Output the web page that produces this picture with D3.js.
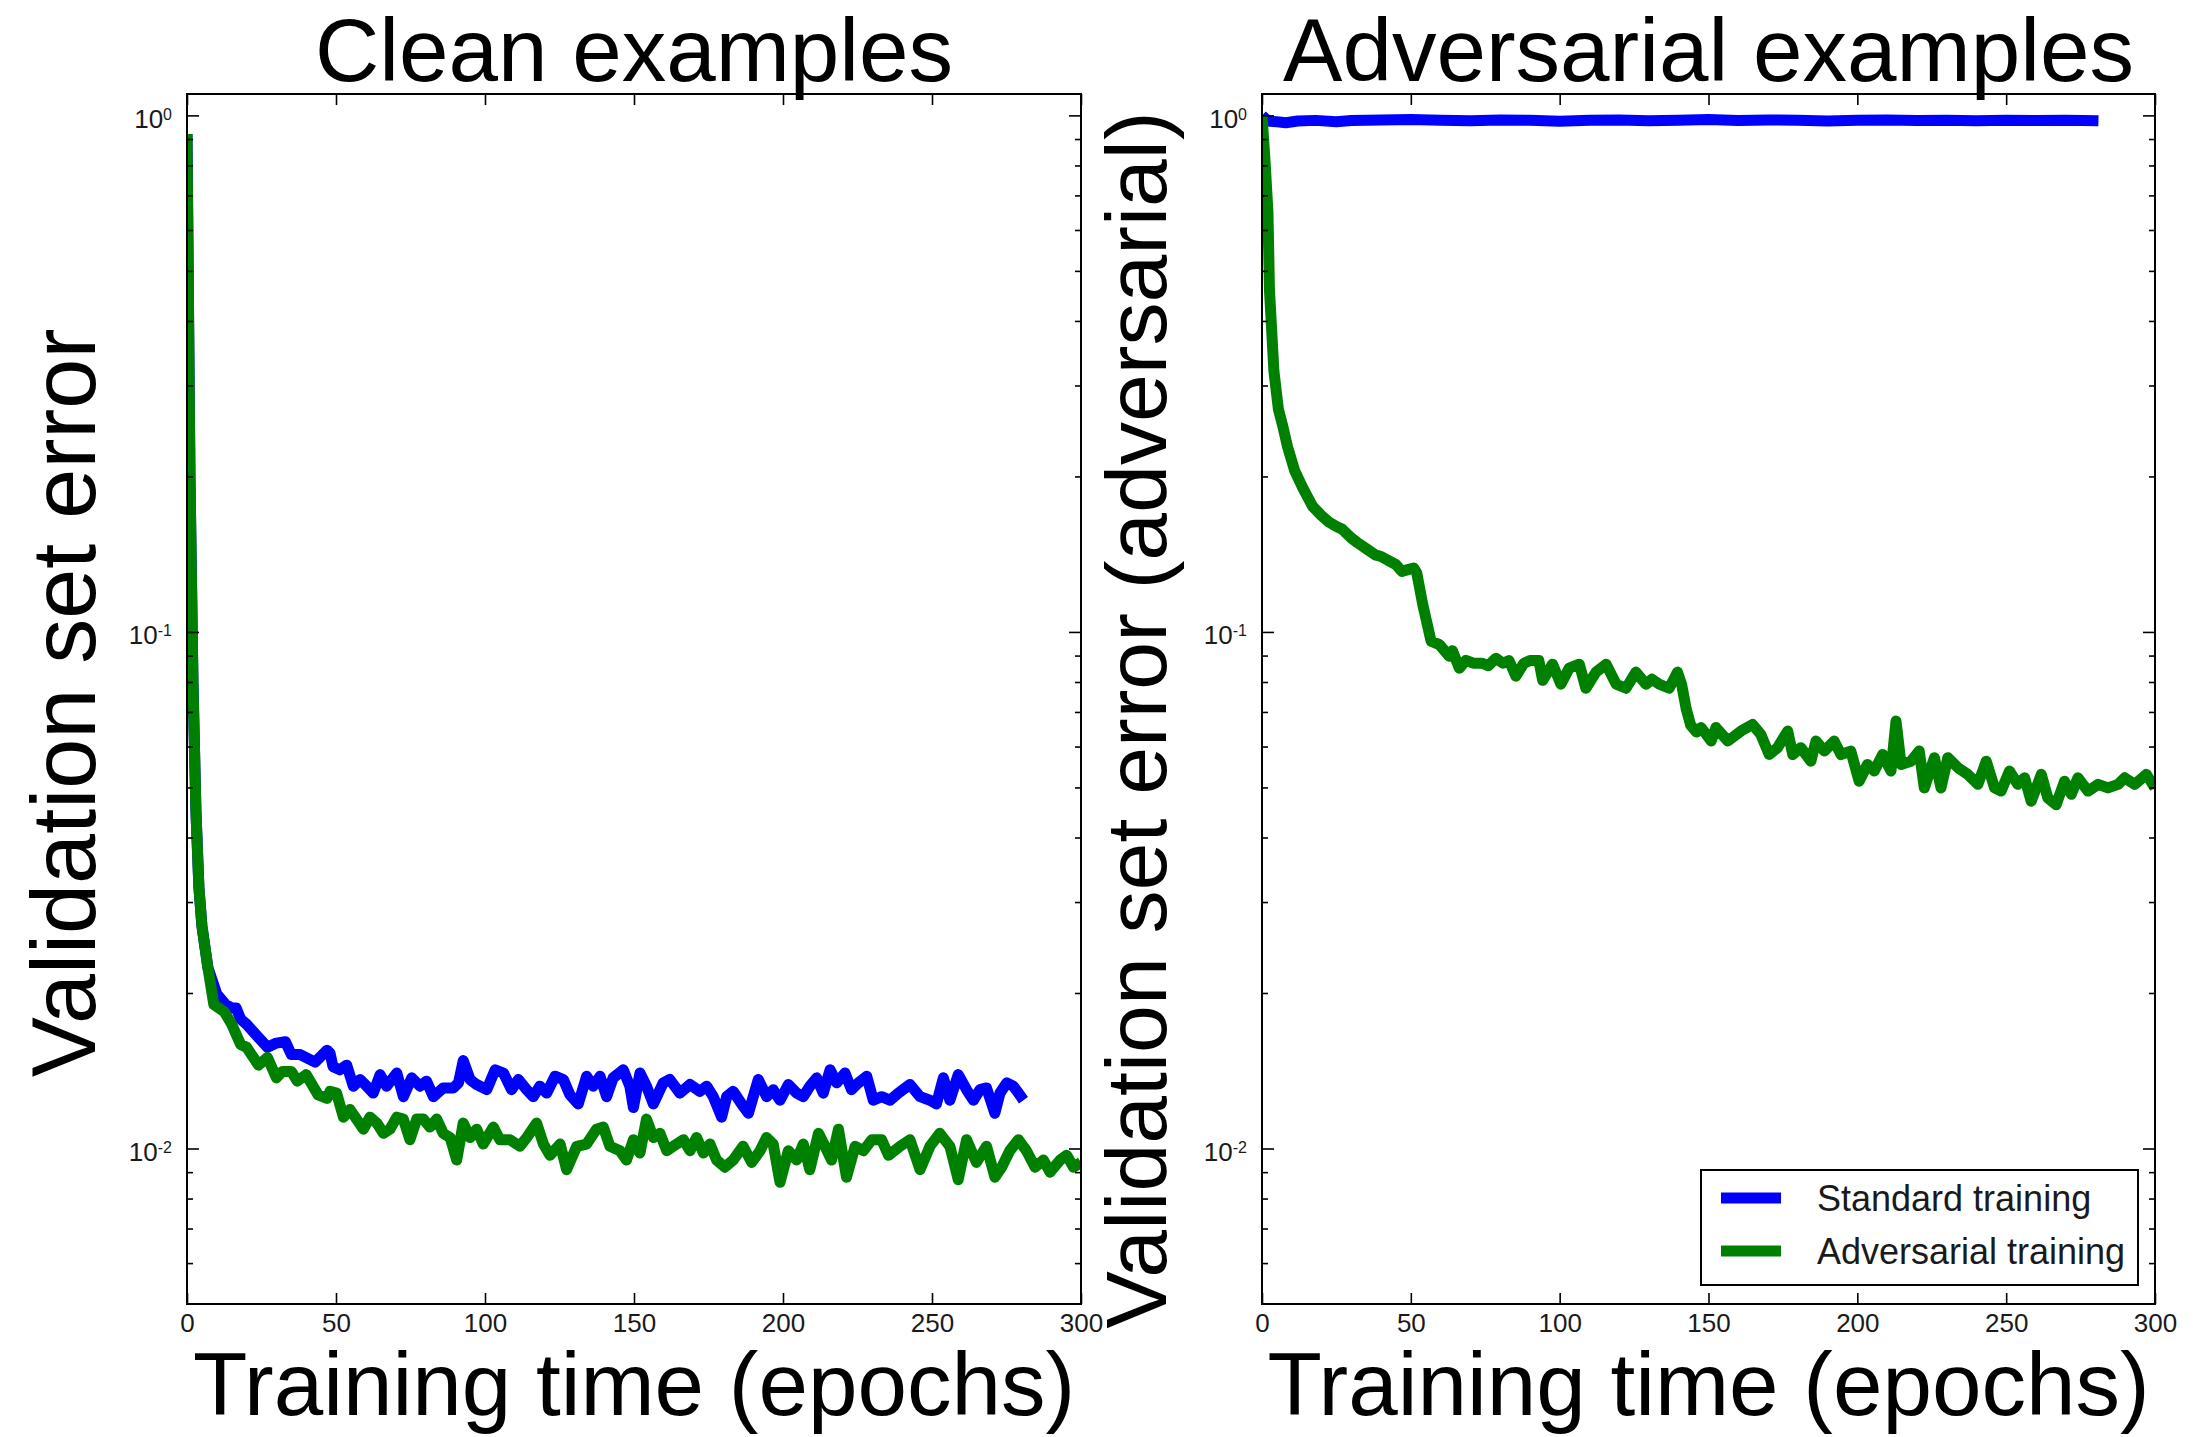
<!DOCTYPE html>
<html>
<head>
<meta charset="utf-8">
<script src="https://cdn.jsdelivr.net/npm/d3@7"></script>
<style>
  body { margin: 0; background: #fff; }
  svg { display: block; font-family: "Liberation Sans", Arial, sans-serif; }
</style>
</head>
<body>
<div id="chart"></div>
<script>
var svgWidth = 2193;
var svgHeight = 1437;

// data: [epoch, validation error]
var seriesNames = ["Standard training", "Adversarial training"];
var seriesColors = ["#0000ff", "#008000"];
var panelTitles = ["Clean examples", "Adversarial examples"];
var yLabels = ["Validation set error", "Validation set error (adversarial)"];
var xLabel = "Training time (epochs)";
var xTicks = [0, 50, 100, 150, 200, 250, 300];
var yTicks = [1, 0.1, 0.01];
var yTickExp = ["0", "-1", "-2"];

var cleanStandard = [
  [0,0.92],[1,0.2],[2,0.08],[3,0.045],[4,0.032],[5,0.027],[7,0.0224],[10,0.0199],[13,0.0190],[15,0.0187],
  [16.5,0.0187],[18,0.0178],[20,0.0174],[24,0.0164],[27,0.0157],[30,0.0160],[33,0.0161],[35,0.0152],[38,0.0152],
  [43,0.0147],[47,0.0155],[48,0.0153],[49,0.0144],[51.3,0.0142],[53.6,0.0145],[55.8,0.0132],[58.1,0.0136],
  [60.3,0.0132],[62.5,0.0128],[64.8,0.0139],[67,0.0132],[70.4,0.0140],[72.6,0.0126],[75.4,0.0137],[78.2,0.0132],
  [80.4,0.0135],[82.7,0.0126],[86,0.0131],[89.4,0.0131],[91.1,0.0134],[92.7,0.0148],[95,0.0136],[97.2,0.0133],
  [100.6,0.0130],[103.4,0.0142],[106.2,0.0140],[108.9,0.0130],[111.2,0.0136],[114,0.0130],[116.2,0.0126],
  [118.4,0.0132],[120.7,0.0128],[123.5,0.0138],[126.3,0.0136],[128.5,0.0127],[131.3,0.0122],[134.1,0.0138],
  [136.3,0.0132],[138.6,0.0138],[140.8,0.0126],[143,0.0137],[146.4,0.0142],[148.6,0.0132],[149.8,0.0120],
  [152,0.0140],[154.2,0.0132],[156.5,0.0122],[159.8,0.0134],[162,0.0136],[165.4,0.0128],[168.8,0.0133],
  [172.1,0.0129],[174.4,0.0132],[176.6,0.0126],[179.4,0.0115],[181.1,0.0126],[183.3,0.0129],[186.1,0.0122],
  [188.4,0.0117],[190,0.0126],[191.7,0.0136],[194.5,0.0126],[196.7,0.0130],[199,0.0124],[201.8,0.0133],
  [204.6,0.0128],[206.8,0.0126],[209,0.0132],[211.3,0.0137],[213.5,0.0128],[215.8,0.0142],[218,0.0134],
  [220.8,0.0140],[223,0.0130],[225.3,0.0134],[228.1,0.0138],[230.3,0.0124],[233.1,0.0126],[235.9,0.0124],
  [238.7,0.0128],[242.6,0.0133],[246,0.0126],[249.3,0.0124],[251.5,0.0122],[253.8,0.0137],[256,0.0124],
  [258.8,0.0139],[261.6,0.0130],[263.9,0.0124],[266.1,0.0130],[268.3,0.0131],[271.1,0.0117],[272.8,0.0128],
  [275.1,0.0134],[277.3,0.0132],[279,0.0128],[280.7,0.0124]
];

var cleanAdversarial = [
  [0,0.92],[1,0.2],[2,0.08],[3,0.045],[4,0.032],[5,0.027],[7,0.0224],[9,0.0190],[12.5,0.0184],[15,0.0174],
  [18,0.0159],[20,0.0157],[24,0.0145],[27,0.0150],[30,0.0137],[32,0.0141],[35,0.0141],[37,0.0135],[40,0.0139],
  [44,0.0127],[47,0.0125],[48,0.0129],[50.2,0.0128],[52.5,0.0115],[54.7,0.0119],[56.9,0.0114],[59.2,0.0109],
  [61.4,0.0115],[63.7,0.0112],[65.9,0.0107],[68.1,0.0109],[70.4,0.0115],[72.6,0.0114],[74.8,0.0104],[77.1,0.0114],
  [79.3,0.0114],[81.5,0.0110],[83.8,0.0114],[86,0.0107],[88.3,0.0105],[90.5,0.0095],[92.7,0.0112],[95,0.0105],
  [97.2,0.0109],[99.4,0.0102],[102.8,0.0110],[105,0.0104],[108.4,0.0104],[111.7,0.0101],[114,0.0105],
  [117.3,0.0112],[119.6,0.0102],[121.8,0.0097],[125.2,0.0102],[127.4,0.0091],[130.8,0.0101],[134.1,0.0102],
  [137.4,0.0109],[139.7,0.0110],[141.9,0.0101],[145.3,0.0099],[147.5,0.0095],[149.8,0.0104],[152,0.0098],
  [154.2,0.0114],[156.5,0.0105],[158.7,0.0107],[161,0.0099],[164.3,0.0102],[166.6,0.0104],[168.8,0.0099],
  [171,0.0105],[173.3,0.0098],[175.5,0.0102],[177.7,0.0095],[180.5,0.0092],[183.3,0.0095],[186.6,0.0101],
  [189.5,0.0094],[192.3,0.0099],[194.5,0.0105],[196.7,0.0102],[199,0.0086],[201.8,0.0099],[204.6,0.0095],
  [206.8,0.0102],[209,0.0091],[211.9,0.0107],[214.1,0.0101],[216.3,0.0095],[218.6,0.0109],[221.3,0.0088],
  [224.2,0.0101],[227,0.0099],[229.8,0.0104],[233.1,0.0104],[235.4,0.0097],[239.3,0.0101],[242.6,0.0104],
  [246,0.0091],[249.3,0.0101],[252.6,0.0107],[256,0.0101],[258.8,0.0087],[261.6,0.0104],[264.9,0.0094],
  [268.3,0.0101],[271.1,0.0088],[273.4,0.0092],[276.1,0.0099],[279,0.0104],[281.7,0.0099],[284.6,0.0092],
  [287.4,0.0095],[289.6,0.0090],[293,0.0095],[295.2,0.0097],[297.5,0.0092],[300,0.0094]
];

var advStandard = [
  [0,1.0],[2,0.975],[5,0.972],[8,0.968],[12,0.975],[18,0.978],[25,0.972],[30,0.977],[40,0.98],[50,0.982],
  [60,0.978],[70,0.976],[80,0.98],[90,0.978],[100,0.974],[110,0.978],[120,0.98],[130,0.976],[140,0.978],
  [150,0.982],[160,0.977],[170,0.98],[180,0.978],[190,0.975],[200,0.978],[210,0.98],[220,0.977],[230,0.979],
  [240,0.976],[250,0.978],[260,0.977],[270,0.979],[281,0.976]
];

var advAdversarial = [
  [0,1.0],[1,0.82],[2,0.65],[2.5,0.46],[4,0.32],[5.5,0.27],[7,0.25],[8.6,0.228],[11,0.205],[13.7,0.19],
  [17,0.175],[20,0.168],[22.6,0.163],[25,0.16],[27,0.158],[30,0.152],[32,0.149],[35,0.145],[38,0.141],[40,0.14],
  [43,0.137],[45,0.135],[47,0.131],[49,0.132],[51,0.133],[52,0.13],[54,0.113],[56.8,0.096],[59.6,0.0945],
  [62.9,0.0897],[64,0.092],[66.3,0.0851],[68.5,0.0881],[71,0.087],[74,0.087],[76,0.086],[78.6,0.0889],[81,0.087],
  [83,0.088],[85.3,0.0821],[88,0.087],[90,0.088],[93,0.088],[94.3,0.0806],[97.6,0.0866],[100.4,0.0792],
  [103.2,0.0851],[106.6,0.0866],[108.8,0.0778],[112.2,0.0836],[115.6,0.0866],[119,0.0792],[122.3,0.0778],
  [125.6,0.0836],[129,0.0792],[131,0.081],[133.5,0.0792],[136.8,0.0778],[139.6,0.0836],[141,0.079],[142.5,0.071],
  [144,0.066],[146,0.064],[147.5,0.0653],[150.9,0.0615],[152.5,0.0653],[156.5,0.0615],[160.9,0.0643],
  [164.8,0.0662],[167.6,0.0633],[170.4,0.0579],[173.2,0.0597],[176.6,0.0643],[178.3,0.0579],[181,0.0597],
  [184.4,0.0562],[186.1,0.0615],[188.9,0.0588],[192.2,0.0615],[194.5,0.0579],[197.8,0.0588],[200.6,0.0514],
  [203.4,0.0554],[205.7,0.0538],[208.5,0.0579],[211.3,0.0538],[213,0.0672],[214.7,0.0554],[218,0.0562],
  [220.8,0.0588],[222.5,0.0499],[225.9,0.0571],[228.1,0.0499],[230.4,0.0571],[233.8,0.0546],[237.1,0.053],
  [240.5,0.0507],[243.3,0.0562],[246.1,0.0499],[248.3,0.0492],[251.1,0.0538],[253.9,0.0507],[256.2,0.0522],
  [258.4,0.047],[261.8,0.053],[264,0.0477],[266.8,0.0463],[269.6,0.0514],[271.9,0.0485],[274.1,0.0522],
  [277.5,0.0492],[280.9,0.0507],[284.2,0.0499],[287.6,0.0507],[289.8,0.0522],[293.2,0.0507],[297.1,0.053],
  [300,0.0499]
];

var plotTop = 94;
var plotBottom = 1304;
var panels = [
  { left: 187, right: 1081, series: [cleanStandard, cleanAdversarial] },
  { left: 1262, right: 2155, series: [advStandard, advAdversarial] }
];

// minor ticks for the log axis: 2..9 x each decade
var minorTicks = [];
[0.001, 0.01, 0.1].forEach(function(d) {
  for (var k = 2; k <= 9; k++) minorTicks.push(+(k * d).toPrecision(3));
});

var svg = d3.select("#chart")
  .append("svg")
  .attr("width", svgWidth)
  .attr("height", svgHeight);

svg.append("rect").attr("width", svgWidth).attr("height", svgHeight).attr("fill", "#fff");

panels.forEach(function(p, i) {
  var x = d3.scaleLinear().domain([0, 300]).range([p.left, p.right]);
  var y = d3.scaleLog().domain([0.005, 1.1]).range([plotBottom, plotTop]);
  var minors = minorTicks.filter(function(v) { return v > 0.005 && v < 1.1; });

  var g = svg.append("g");

  g.append("clipPath").attr("id", "clip" + i)
    .append("rect")
    .attr("x", p.left).attr("y", plotTop)
    .attr("width", p.right - p.left).attr("height", plotBottom - plotTop);

  // Lines
  var line = d3.line()
    .x(function(d) { return x(d[0]); })
    .y(function(d) { return y(d[1]); });

  p.series.forEach(function(s, j) {
    g.append("path")
      .datum(s)
      .attr("clip-path", "url(#clip" + i + ")")
      .attr("fill", "none")
      .attr("stroke", seriesColors[j])
      .attr("stroke-width", 11)
      .attr("stroke-linejoin", "round")
      .attr("stroke-linecap", "butt")
      .attr("d", line);
  });

  // Axes, ticks inward on all four sides
  var bottomAxis = g.append("g")
    .attr("transform", "translate(0," + plotBottom + ")")
    .call(d3.axisBottom(x).tickValues(xTicks).tickSize(-11).tickPadding(10).tickFormat(d3.format("d")));
  g.append("g")
    .attr("transform", "translate(0," + plotTop + ")")
    .call(d3.axisTop(x).tickValues(xTicks).tickSize(-11).tickFormat(""));

  var leftAxis = g.append("g")
    .attr("transform", "translate(" + p.left + ",0)")
    .call(d3.axisLeft(y).tickValues(yTicks).tickSize(-12).tickPadding(15).tickFormat(""));
  g.append("g")
    .attr("transform", "translate(" + p.right + ",0)")
    .call(d3.axisRight(y).tickValues(yTicks).tickSize(-12).tickFormat(""));
  g.append("g")
    .attr("transform", "translate(" + p.left + ",0)")
    .call(d3.axisLeft(y).tickValues(minors).tickSize(-6).tickFormat(""));
  g.append("g")
    .attr("transform", "translate(" + p.right + ",0)")
    .call(d3.axisRight(y).tickValues(minors).tickSize(-6).tickFormat(""));

  g.selectAll(".domain").remove();
  g.selectAll(".tick line").attr("stroke", "#000").attr("stroke-width", 1.6);

  bottomAxis.selectAll("text")
    .attr("font-size", 26)
    .attr("font-family", "Liberation Sans, Arial, sans-serif")
    .attr("fill", "#1a1a1a");

  leftAxis.selectAll(".tick text")
    .attr("font-size", 26)
    .attr("font-family", "Liberation Sans, Arial, sans-serif")
    .attr("fill", "#1a1a1a")
    .attr("dy", "0.45em")
    .each(function(d, k) {
      var t = d3.select(this);
      t.append("tspan").text("10");
      t.append("tspan").attr("dy", "-0.5em").attr("font-size", 16).text(yTickExp[k]);
    });

  // Frame
  g.append("rect")
    .attr("x", p.left).attr("y", plotTop)
    .attr("width", p.right - p.left).attr("height", plotBottom - plotTop)
    .attr("fill", "none").attr("stroke", "#000").attr("stroke-width", 2);

  var cx = (p.left + p.right) / 2;

  g.append("text")
    .attr("x", cx).attr("y", 81)
    .attr("text-anchor", "middle")
    .attr("font-size", 89)
    .text(panelTitles[i]);

  g.append("text")
    .attr("x", cx).attr("y", 1415)
    .attr("text-anchor", "middle")
    .attr("font-size", 89)
    .text(xLabel);
});

// y labels
svg.append("text")
  .attr("transform", "translate(95,703) rotate(-90)")
  .attr("text-anchor", "middle")
  .attr("font-size", 90)
  .text(yLabels[0]);

svg.append("text")
  .attr("transform", "translate(1166,720) rotate(-90)")
  .attr("text-anchor", "middle")
  .attr("font-size", 86)
  .text(yLabels[1]);

// Legend
var legend = svg.append("g");
legend.append("rect")
  .attr("x", 1701).attr("y", 1170)
  .attr("width", 437).attr("height", 115)
  .attr("fill", "#fff").attr("stroke", "#000").attr("stroke-width", 2);

seriesNames.forEach(function(name, j) {
  var ly = 1198 + j * 53;
  legend.append("line")
    .attr("x1", 1721).attr("x2", 1781)
    .attr("y1", ly).attr("y2", ly)
    .attr("stroke", seriesColors[j]).attr("stroke-width", 11);
  legend.append("text")
    .attr("x", 1817).attr("y", ly)
    .attr("dy", "0.36em")
    .attr("font-size", 36)
    .attr("fill", "#1a1a1a")
    .text(name);
});
</script>
</body>
</html>
